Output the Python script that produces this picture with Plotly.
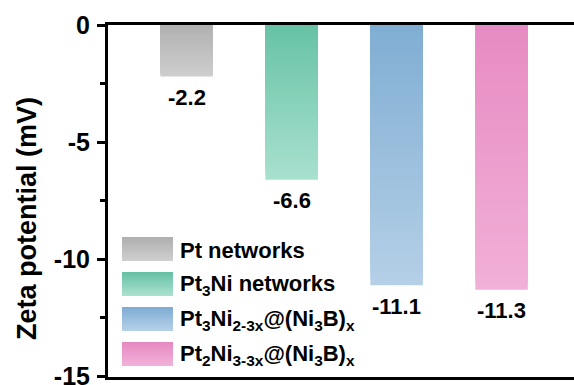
import plotly.graph_objects as go

# Zeta potential of the four catalysts (mV)
categories = ["Pt networks", "Pt3Ni networks", "Pt3Ni2-3x@(Ni3B)x", "Pt2Ni3-3x@(Ni3B)x"]
legend_labels = [
    "Pt networks",
    "Pt<sub>3</sub>Ni networks",
    "Pt<sub>3</sub>Ni<sub>2-3x</sub>@(Ni<sub>3</sub>B)<sub>x</sub>",
    "Pt<sub>2</sub>Ni<sub>3-3x</sub>@(Ni<sub>3</sub>B)<sub>x</sub>",
]
zeta = [-2.2, -6.6, -11.1, -11.3]
y_ticks = [0, -5, -10, -15]

# gradient end colours per bar: (top, bottom)
grad_colors = [
    ((176, 176, 176), (206, 206, 206)),
    ((102, 194, 165), (168, 224, 206)),
    ((127, 173, 211), (180, 207, 230)),
    ((231, 138, 195), (241, 176, 215)),
]

FONT = "Liberation Sans, Arial, sans-serif"
N_STEPS = 40


def mix(c1, c2, t):
    return "rgb({},{},{})".format(*[round(a + (b - a) * t) for a, b in zip(c1, c2)])


fig = go.Figure()

# each bar is layered from its full length (light) down to short (dark) slices
for cat, val, (top, bottom) in zip(categories, zeta, grad_colors):
    for i in range(N_STEPS):
        frac = 1 - i / N_STEPS
        fig.add_trace(go.Bar(
            x=[cat], y=[val * frac],
            width=0.5,
            marker=dict(color=mix(top, bottom, frac), line=dict(width=0)),
            showlegend=False, hoverinfo="skip",
        ))

# value labels under each bar
for cat, val in zip(categories, zeta):
    fig.add_annotation(
        x=cat, y=val, xref="x", yref="y",
        text=f"{val:.1f}", showarrow=False,
        yshift=-21, font=dict(family=FONT, size=22, color="black", weight="bold"),
    )

# legend built from gradient swatches and labels
PLOT_L, PLOT_W, PLOT_B, PLOT_H = 108, 466, 377, 352


def px_x(p):
    return (p - PLOT_L) / PLOT_W


def px_y(p):
    return (PLOT_B - p) / PLOT_H


sw_left, sw_right, sw_h, row0, row_gap = 122, 173, 24, 237, 35
strips = 12
for k, (label, (top, bottom)) in enumerate(zip(legend_labels, grad_colors)):
    y_top = row0 + k * row_gap
    for s in range(strips):
        y0 = y_top + s * sw_h / strips
        y1 = y0 + sw_h / strips + 0.5
        fig.add_shape(
            type="rect", xref="paper", yref="paper",
            x0=px_x(sw_left), x1=px_x(sw_right),
            y0=px_y(min(y1, y_top + sw_h)), y1=px_y(y0),
            fillcolor=mix(top, bottom, s / (strips - 1)),
            line=dict(width=0), layer="above",
        )
    fig.add_annotation(
        x=px_x(178), y=px_y(y_top + sw_h / 2 + 1), xref="paper", yref="paper",
        xanchor="left", yanchor="middle", text=label, showarrow=False,
        font=dict(family=FONT, size=22, color="black", weight="bold"),
    )

# y-axis title
fig.add_annotation(
    x=px_x(27), y=px_y(219), xref="paper", yref="paper",
    xanchor="center", yanchor="middle",
    text="Zeta potential (mV)", textangle=-90, showarrow=False,
    font=dict(family=FONT, size=27, color="black", weight="bold"),
)

fig.update_layout(
    width=574, height=385,
    margin=dict(l=PLOT_L, r=0, t=25, b=385 - PLOT_B, pad=0, autoexpand=False),
    barmode="overlay",
    plot_bgcolor="white", paper_bgcolor="white",
    showlegend=False,
    xaxis=dict(
        type="category", categoryorder="array", categoryarray=categories,
        range=[-0.75, 3.69], showticklabels=False, ticks="",
        showline=True, linecolor="black", linewidth=3, mirror=True,
        showgrid=False, zeroline=False, fixedrange=True, automargin=False,
    ),
    yaxis=dict(
        range=[-15.02, 0], tickvals=y_ticks, ticktext=[str(v) for v in y_ticks],
        ticks="outside", ticklen=8, tickwidth=3, tickcolor="black",
        minor=dict(tickvals=[-2.5, -7.5, -12.5], ticks="outside", ticklen=5,
                   tickwidth=3, tickcolor="black"),
        showline=True, linecolor="black", linewidth=3, mirror=False,
        showgrid=False, zeroline=False, automargin=False,
        tickfont=dict(family=FONT, size=25, color="black", weight="bold"),
        ticklabelstandoff=2, ticklabeloverflow="allow",
    ),
)

fig.write_html("out.html")
